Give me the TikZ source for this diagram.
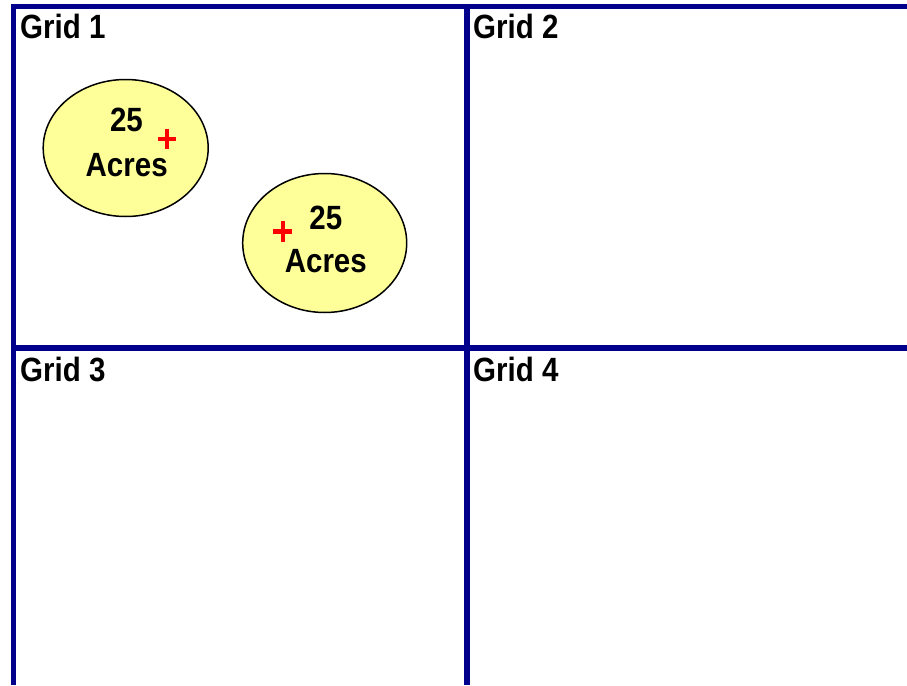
\documentclass[tikz,border=0pt]{standalone}
\usepackage{fontspec}
\setmainfont{Liberation Sans}
\usetikzlibrary{shapes.geometric}
\definecolor{gridblue}{RGB}{0,0,140}
\definecolor{plotyellow}{RGB}{255,255,153}
\def\tall#1{\scalebox{1}[1.14]{#1}}
\tikzset{
  gridline/.style={draw=gridblue, line width=5.5pt},
  plot/.style={ellipse, draw=black, line width=1.5pt, fill=plotyellow, inner sep=0pt},
  lbl/.style={inner sep=0pt, font=\bfseries\fontsize{29.5}{32}\selectfont},
  centre/.style={red, line width=4.4pt}
}
\begin{document}
\begin{tikzpicture}[x=1pt, y=-1pt]
			\useasboundingbox (0, 0) rectangle (907, 685);
			%%%%% START %%%%%
			\draw[gridline] (13.5, 6.5) -- (907, 6.5);
			\draw[gridline] (13.5, 4) -- (13.5, 685);
			\draw[gridline] (467, 6.5) -- (467, 685);
			\draw[gridline] (13.5, 348) -- (907, 348);
			
			\node[lbl, anchor=base west] (g1) at (20, 39) {\tall{Grid 1}};
			\node[lbl, anchor=base west] (g2) at (473, 39) {\tall{Grid 2}};
			\node[lbl, anchor=base west] (g3) at (20, 381.7) {\tall{Grid 3}};
			\node[lbl, anchor=base west] (g4) at (473, 381.7) {\tall{Grid 4}};
			
			\node[plot, minimum width=165pt, minimum height=137pt] (plotA) at (125.7, 148) {};
			\node[lbl, anchor=base] (plotAnum) at (126.5, 131.7) {\tall{25}};
			\node[lbl, anchor=base] (plotAunit) at (126.7, 176.7) {\tall{Acres}};
			\draw[centre] (158, 138.7) -- (176, 138.7);
			\draw[centre] (167, 128.5) -- (167, 149);
			
			\node[plot, minimum width=164pt, minimum height=139pt] (plotB) at (324.7, 243) {};
			\node[lbl, anchor=base] (plotBnum) at (325.8, 229) {\tall{25}};
			\node[lbl, anchor=base] (plotBunit) at (325.8, 272.7) {\tall{Acres}};
			\draw[centre] (273.3, 231.3) -- (292.3, 231.3);
			\draw[centre] (282.8, 221) -- (282.8, 241.7);
			%%%%% END %%%%%
		\end{tikzpicture}
\end{document}
